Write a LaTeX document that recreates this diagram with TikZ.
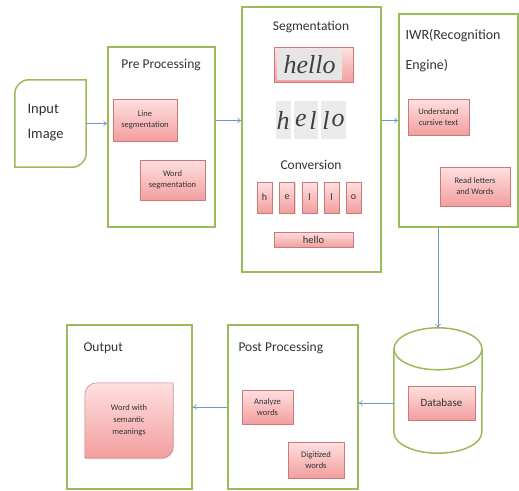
\documentclass[tikz,border=0pt]{standalone}
\usepackage{fontspec}
\setmainfont{Carlito}
\newfontfamily\handfont{Liberation Serif}
\usetikzlibrary{arrows.meta,shadows,backgrounds}
\definecolor{stagegreen}{RGB}{155,187,89}
\definecolor{tasktop}{RGB}{255,224,224}
\definecolor{taskbot}{RGB}{242,158,158}
\definecolor{taskline}{RGB}{205,120,120}
\definecolor{linkblue}{RGB}{110,150,210}
\tikzset{
  stage/.style={draw=stagegreen,line width=1.5pt},
  task/.style={draw=taskline,line width=0.5pt,top color=tasktop,bottom color=taskbot,
    drop shadow={opacity=0.25,shadow xshift=1pt,shadow yshift=-1pt},
    font=\fontsize{8.5}{11}\selectfont,text=black!80,align=center,inner sep=1pt},
  title/.style={font=\fontsize{13.5}{15}\selectfont,text=black!80},
  hand/.style={font=\handfont\itshape\fontsize{26}{26}\selectfont,text=black!75},
  link/.style={draw=linkblue,line width=0.6pt,-{To[length=4pt,width=6pt]}}
}
\begin{document}
\begin{tikzpicture}[x=1pt,y=-1pt]
\useasboundingbox (0,0) rectangle (519,490);
% input image
\node[minimum width=71pt,minimum height=87pt] (in) at (50.5,123.5) {};
\draw[stage] (in.south west) -- ([yshift=-14pt]in.north west) arc[start angle=180,end angle=90,radius=14pt]
  -- (in.north east) -- ([yshift=14pt]in.south east) arc[start angle=0,end angle=-90,radius=14pt] -- cycle;
\node[title,anchor=west,align=left,font=\fontsize{14.5}{25}\selectfont] (intext) at (24,123) {Input\\Image};
% pre processing
\node[stage,minimum width=107pt,minimum height=180pt] (pre) at (161.5,137) {};
\node[title] (pretitle) at (161,65) {Pre Processing};
\node[task,minimum width=64pt,minimum height=42pt] (line) at (145,120) {Line\\segmentation};
\node[task,minimum width=65pt,minimum height=40pt] (word) at (172.5,180) {Word\\segmentation};
% segmentation
\node[stage,minimum width=139pt,minimum height=265pt] (seg) at (311.5,139.5) {};
\node[title] (segtitle) at (311,27) {Segmentation};
\node[task,minimum width=79pt,minimum height=35pt] (cursive) at (313.5,64.5) {};
\node[hand,fill=black!10,minimum width=65pt,minimum height=31pt,inner sep=0pt] (hellopic) at (309.5,64.5) {hello};
\foreach \ch/\cx in {h/283,e/301,l/313,l/326,o/338}
  \node[hand,fill=black!8,inner sep=1pt,minimum height=38pt] (piece\cx) at (\cx,120) {\ch};
\node[title] (convtitle) at (311,165) {Conversion};
\foreach \ch/\cx [count=\i] in {h/264.5,e/287,l/309.5,l/331.5,o/353.5}
  \node[task,minimum width=15pt,minimum height=31pt,font=\fontsize{10}{10}\selectfont] (char\i) at (\cx,197.5) {\ch};
\node[task,minimum width=79pt,minimum height=15pt,font=\fontsize{10.5}{10}\selectfont] (plain) at (313.5,239.5) {hello};
% recognition engine
\node[stage,minimum width=119pt,minimum height=213pt] (iwr) at (458.5,120.5) {};
\node[title,anchor=north west,align=left,font=\fontsize{14}{30}\selectfont] (iwrtitle) at (402,26) {IWR(Recognition\\Engine)};
\node[task,minimum width=61pt,minimum height=36pt] (cursivetext) at (438.5,117) {Understand\\cursive text};
\node[task,minimum width=70pt,minimum height=39pt] (letters) at (475,186.5) {Read letters\\and Words};
% database
\node[minimum width=88pt,minimum height=125pt] (db) at (438,390.5) {};
\draw[stage] ([yshift=-21pt]db.north west) -- ([yshift=21pt]db.south west)
  arc[start angle=180,end angle=360,x radius=44pt,y radius=21pt] -- ([yshift=-21pt]db.north east);
\draw[stage] ([yshift=-21pt]db.north) ellipse[x radius=44pt,y radius=21pt];
\node[task,minimum width=67pt,minimum height=34pt,font=\fontsize{11}{12}\selectfont] (dbtext) at (441.5,403) {Database};
% post processing
\node[stage,minimum width=130pt,minimum height=164pt] (post) at (293,407) {};
\node[title,anchor=west] (posttitle) at (235,348) {Post Processing};
\node[task,minimum width=51pt,minimum height=34pt] (analyze) at (267.5,407) {Analyze\\words};
\node[task,minimum width=56pt,minimum height=36pt] (digit) at (316,460) {Digitized\\words};
% output
\node[stage,minimum width=125pt,minimum height=164pt] (out) at (129.5,407) {};
\node[title,anchor=west] (outtitle) at (80,348) {Output};
\node[font=\fontsize{8.5}{12}\selectfont,text=black!80,align=center,minimum width=88pt,minimum height=75pt] (meaning) at (129,420.5) {Word with\\semantic\\meanings};
\begin{pgfonlayer}{background}
\path[task] (meaning.south west) -- ([yshift=-12pt]meaning.north west) arc[start angle=180,end angle=90,radius=12pt]
  -- (meaning.north east) -- ([yshift=12pt]meaning.south east) arc[start angle=0,end angle=-90,radius=12pt] -- cycle;
\end{pgfonlayer}
% connectors
\draw[link] (in.east) -- (in.east -| pre.west);
\draw[link] (pre.east |- iwr.west) -- (seg.west |- iwr.west);
\draw[link] (seg.east |- iwr.west) -- (iwr.west);
\draw[link] (db.north |- iwr.south) -- (db.north);
\draw[link] (db.west |- dbtext) -- (post.east |- dbtext);
\draw[link] (post.west) -- (out.east);
\end{tikzpicture}
\end{document}
